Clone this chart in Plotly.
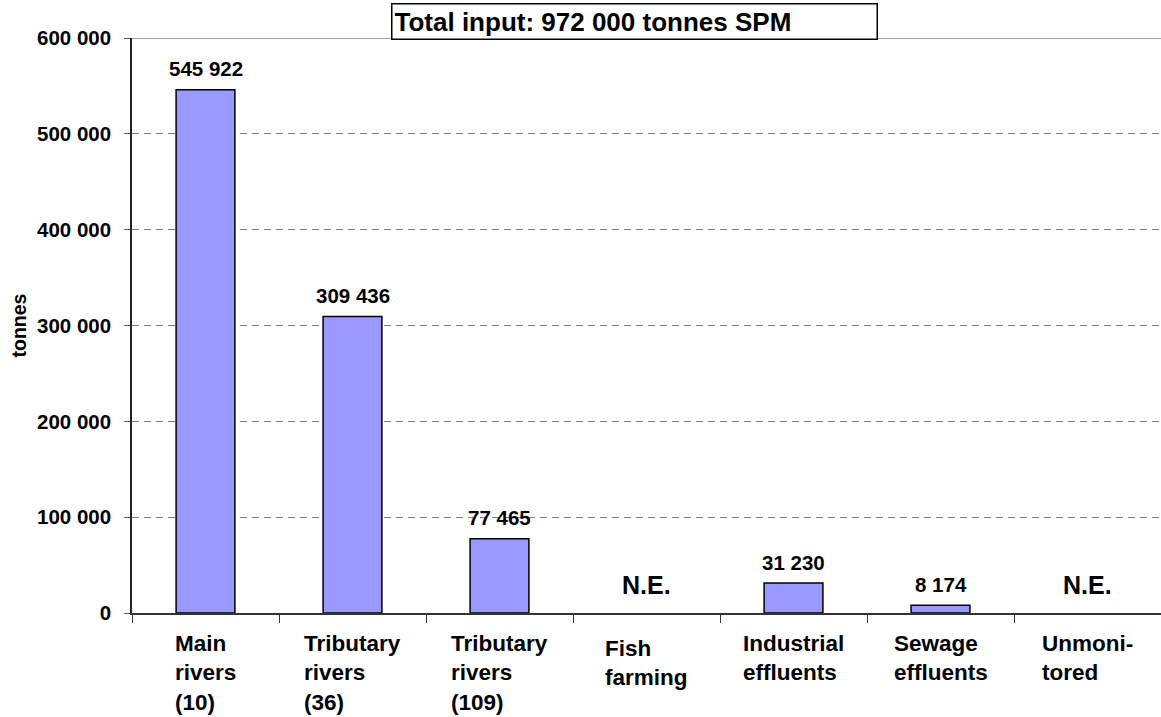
import plotly.graph_objects as go

categories = ["Main rivers (10)", "Tributary rivers (36)", "Tributary rivers (109)",
              "Fish farming", "Industrial effluents", "Sewage effluents", "Unmonitored"]
category_labels = ["Main<br>rivers<br>(10)", "Tributary<br>rivers<br>(36)", "Tributary<br>rivers<br>(109)",
                   "Fish<br>farming", "Industrial<br>effluents", "Sewage<br>effluents", "Unmoni-<br>tored"]
values = [545922, 309436, 77465, None, 31230, 8174, None]
value_labels = ["545 922", "309 436", "77 465", "N.E.", "31 230", "8 174", "N.E."]
y_ticks = [0, 100000, 200000, 300000, 400000, 500000, 600000]
title_text = "Total input: 972 000 tonnes SPM"
y_title = "tonnes"

FONT = "Liberation Sans, Arial, sans-serif"
xpos = list(range(len(categories)))

fig = go.Figure()
fig.add_trace(go.Bar(
    x=xpos, y=values, width=0.4,
    marker=dict(color="#9999FF", line=dict(color="black", width=1.5)),
    hovertext=categories, showlegend=False,
))

annotations = []
for i, (v, lab) in enumerate(zip(values, value_labels)):
    if v is None:
        annotations.append(dict(x=i, y=0, xref="x", yref="y", text=lab, showarrow=False,
                                yanchor="middle", yshift=28,
                                font=dict(family=FONT, size=25, color="black", weight="bold")))
    else:
        annotations.append(dict(x=i, y=v, xref="x", yref="y", text=lab, showarrow=False,
                                yanchor="middle", yshift=21,
                                font=dict(family=FONT, size=20.5, color="black", weight="bold")))

for i, lab in enumerate(category_labels):
    extra = -5 if lab.startswith("Fish") else 0
    annotations.append(dict(x=i, y=0, xref="x", yref="y", text=lab, showarrow=False,
                            xanchor="center", yanchor="top", align="left", yshift=-16 + extra,
                            font=dict(family=FONT, size=22.5, color="black", weight="bold")))

annotations.append(dict(x=(18 - 132) / 1029, y=0.5, xref="paper", yref="paper", text=y_title,
                        showarrow=False, textangle=-90, xanchor="center", yanchor="middle",
                        font=dict(family=FONT, size=19.5, color="black", weight="bold")))

annotations.append(dict(x=(391 - 132) / 1029, y=1 + (38 - 40) / 575, xref="paper", yref="paper",
                        text=title_text, showarrow=False, xanchor="left", yanchor="bottom",
                        align="left", width=480, height=30, borderpad=2,
                        bordercolor="black", borderwidth=1.5, bgcolor="white",
                        font=dict(family=FONT, size=26, color="black", weight="bold")))

fig.update_layout(
    width=1161, height=717,
    margin=dict(l=132, r=0, t=38, b=104),
    paper_bgcolor="white", plot_bgcolor="white",
    separators=". ",
    annotations=annotations,
    shapes=[dict(type="line", xref="paper", yref="y", x0=0, x1=1, y0=600000, y1=600000,
                 line=dict(color="#808080", width=1.5), layer="below")],
    xaxis=dict(range=[-0.5, len(categories) - 0.5], tickmode="array",
               tickvals=[i - 0.5 for i in range(len(categories) + 1)],
               showticklabels=False, ticks="outside", ticklen=8, tickcolor="#333333",
               showgrid=False, zeroline=False, showline=True, linecolor="#333333", linewidth=1.5),
    yaxis=dict(range=[0, 600000], tickmode="array", tickvals=y_ticks, tickformat=",d",
               ticks="outside", ticklen=6, tickcolor="#555555", ticklabelstandoff=9,
               tickfont=dict(family=FONT, size=20.5, color="black", weight="bold"),
               showgrid=True, gridcolor="#808080", gridwidth=1.2, griddash="7px,5px",
               zeroline=False, showline=True, linecolor="#222222", linewidth=1.5),
)

fig.write_html("out.html", config={"displayModeBar": False},
               post_script="document.body.style.margin='0px';document.body.style.overflow='hidden';"
                           "document.documentElement.style.overflow='hidden';")
